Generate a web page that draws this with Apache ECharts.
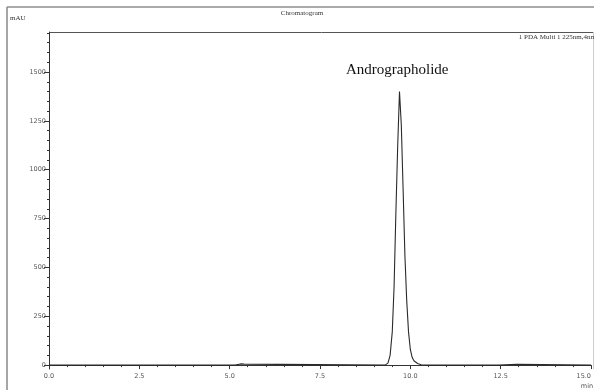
<!DOCTYPE html>
<html>
<head>
<meta charset="utf-8">
<script src="https://cdn.jsdelivr.net/npm/echarts@6/dist/echarts.min.js"></script>
<style>
html,body{margin:0;padding:0;background:#fff;}
#c{width:594px;height:390px;}
</style>
</head>
<body>
<div id="c"></div>
<script>
// Retention time (min) and absorbance (mAU)
const time = [0, 5.15, 5.2, 5.3, 5.4, 5.45, 9.3, 9.38, 9.44, 9.5, 9.55, 9.6, 9.65, 9.7, 9.75, 9.8, 9.85, 9.9, 9.95, 10.0, 10.05, 10.1, 10.2, 10.3, 10.4, 12.45, 12.5, 12.95, 13.0, 15.0];
const signal = [0, 0, 5, 6, 5, 0, 0, 10, 50, 170, 400, 780, 1120, 1400, 1230, 900, 560, 330, 170, 80, 40, 22, 8, 2, 0, 0, 4, 4, 0, 0];
const yTicks = [0, 250, 500, 750, 1000, 1250, 1500];
const yMinorTicks = [0, 50, 100, 150, 200, 250, 300, 350, 400, 450, 500, 550, 600, 650, 700, 750, 800, 850, 900, 950, 1000, 1050, 1100, 1150, 1200, 1250, 1300, 1350, 1400, 1450, 1500, 1550, 1600, 1650, 1700];
const peakName = 'Andrographolide';

const chart = echarts.init(document.getElementById('c'), null, {renderer: 'canvas'});
const serif = "'Liberation Serif', 'DejaVu Serif', serif";
const sans = "'DejaVu Sans', 'Liberation Sans', sans-serif";
const data = time.map((t, i) => [t, signal[i]]);

chart.setOption({
  animation: false,
  backgroundColor: '#fff',
  grid: {left: 49, top: 32, right: 1, bottom: 21},
  xAxis: {
    type: 'value', min: 0, max: 15, interval: 2.5,
    axisLine: {show: true, lineStyle: {color: '#333', width: 1}},
    axisTick: {show: true, length: 4, lineStyle: {color: '#333'}},
    minorTick: {show: true, splitNumber: 5, length: 2, lineStyle: {color: '#333'}},
    splitLine: {show: false},
    axisLabel: {fontFamily: sans, fontSize: 6.5, color: '#555', margin: 4,
      formatter: v => v.toFixed(1), alignMaxLabel: 'right'}
  },
  yAxis: [{
    type: 'value', min: -20, max: 1705,
    axisLine: {show: true, lineStyle: {color: '#333', width: 1}},
    axisTick: {show: true, length: 5, customValues: yTicks, lineStyle: {color: '#333'}},
    splitLine: {show: false},
    axisLabel: {customValues: yTicks, fontFamily: sans, fontSize: 6.5, color: '#555', margin: 3,
      formatter: v => String(Math.round(v))}
  }, {
    type: 'value', min: -20, max: 1705, position: 'left',
    axisLine: {show: false},
    axisTick: {show: true, length: 2, customValues: yMinorTicks, lineStyle: {color: '#333'}},
    splitLine: {show: false},
    axisLabel: {show: false}
  }],
  series: [{
    type: 'line', data: data, showSymbol: false, yAxisIndex: 0,
    lineStyle: {color: '#2a2a2a', width: 1.1}
  }],
  graphic: [
    {type: 'line', shape: {x1: 7, y1: 7, x2: 594, y2: 7}, style: {stroke: '#aaa', lineWidth: 2}},
    {type: 'line', shape: {x1: 7, y1: 7, x2: 7, y2: 390}, style: {stroke: '#888', lineWidth: 1.5}},
    {type: 'line', shape: {x1: 49, y1: 32.5, x2: 594, y2: 32.5}, style: {stroke: '#555', lineWidth: 1}},
    {type: 'line', shape: {x1: 593.5, y1: 32, x2: 593.5, y2: 369}, style: {stroke: '#ccc', lineWidth: 1}},
    {type: 'text', x: 302, y: 13, style: {text: 'Chromatogram', fontFamily: serif, fontSize: 7, fill: '#333', textAlign: 'center', textVerticalAlign: 'middle'}},
    {type: 'text', x: 10, y: 18, style: {text: 'mAU', fontFamily: serif, fontSize: 7, fill: '#333', textAlign: 'left', textVerticalAlign: 'middle'}},
    {type: 'text', x: 596, y: 37, style: {text: '1 PDA Multi 1 225nm,4nm', fontFamily: serif, fontSize: 7, fill: '#333', textAlign: 'right', textVerticalAlign: 'middle'}},
    {type: 'text', x: 587, y: 386, style: {text: 'min', fontFamily: sans, fontSize: 6.5, fill: '#555', textAlign: 'center', textVerticalAlign: 'middle'}},
    {type: 'text', x: 346, y: 70, style: {text: peakName, fontFamily: serif, fontSize: 15, fill: '#111', textAlign: 'left', textVerticalAlign: 'middle'}}
  ]
});
</script>
</body>
</html>
